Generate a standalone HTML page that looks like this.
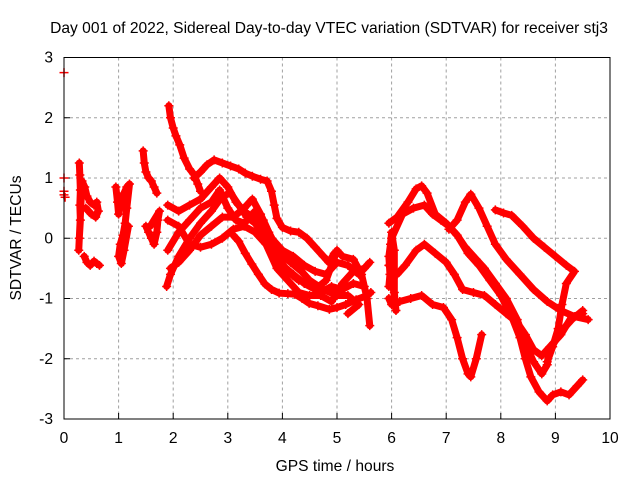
<!DOCTYPE html>
<html><head><meta charset="utf-8"><style>
body{margin:0;background:#fff}
svg{display:block;font-family:"Liberation Sans",Arial,sans-serif}
</style></head><body>
<svg id="chart" width="640" height="480" viewBox="0 0 640 480" xmlns="http://www.w3.org/2000/svg">
<rect width="640" height="480" fill="#fff"/>
<text x="329" y="33" font-size="15.6" text-anchor="middle" fill="#000">Day 001 of 2022, Sidereal Day-to-day VTEC variation (SDTVAR) for receiver stj3</text>
<g id="grid"></g>
<g id="ticks"></g>
<g id="marks"></g>
<rect x="64" y="57.5" width="546" height="361.5" fill="none" stroke="#000" stroke-width="1"/>
<text x="335" y="471" font-size="15.6" text-anchor="middle">GPS time / hours</text>
<text x="0" y="0" font-size="15.6" text-anchor="middle" transform="translate(21,238) rotate(-90)">SDTVAR / TECUs</text>
</svg>
<script>
const xTicks=[0,1,2,3,4,5,6,7,8,9,10];
const yTicks=[-3,-2,-1,0,1,2,3];
const s1=[[0,2.75],[0,1.0],[0,0.78],[0,0.72],[0.02,0.68]];
const s2=[[0.28,1.25],[0.29,1.05],[0.3,0.8],[0.29,0.55],[0.3,0.3],[0.28,0.0],[0.27,-0.2],[0.33,0.95],[0.38,0.85],[0.42,0.7],[0.48,0.6],[0.55,0.55],[0.6,0.6],[0.63,0.45],[0.58,0.35],[0.5,0.4],[0.4,0.5]];
const s3=[[0.37,-0.3],[0.42,-0.4],[0.48,-0.45],[0.55,-0.38],[0.6,-0.42],[0.65,-0.45]];
const s4=[[0.95,0.85],[0.98,0.6],[1.0,0.4],[1.05,0.6],[1.1,0.75],[1.15,0.85],[1.2,0.9],[1.15,0.5],[1.12,0.25],[1.08,0.05],[1.03,-0.1],[1.0,-0.3],[1.05,-0.42],[1.1,-0.2],[1.18,0.2]];
const s5=[[1.45,1.45],[1.47,1.25],[1.5,1.1],[1.55,1.0],[1.6,0.95],[1.65,0.85],[1.7,0.75]];
const s6=[[1.5,0.2],[1.55,0.1],[1.6,0.0],[1.65,-0.1],[1.7,0.1],[1.72,0.3],[1.75,0.45],[1.58,0.2]];
const s7=[[1.92,2.2],[1.95,2.0],[2.0,1.83],[2.05,1.7],[2.12,1.55],[2.2,1.33],[2.3,1.15],[2.38,1.06],[2.45,0.9],[2.5,0.78]];
const s8=[[2.38,1.0],[2.5,1.1],[2.62,1.22],[2.75,1.3],[2.9,1.25],[3.05,1.2],[3.2,1.15],[3.32,1.08],[3.45,1.03],[3.6,0.98],[3.72,0.95],[3.8,0.78],[3.85,0.55],[3.9,0.33],[4.0,0.18],[4.15,0.12],[4.3,0.1],[4.45,0.0],[4.6,-0.15],[4.75,-0.3],[4.85,-0.4],[4.95,-0.25]];
const s9=[[3.1,0.05],[3.2,-0.05],[3.32,-0.25],[3.44,-0.43],[3.56,-0.6],[3.68,-0.76],[3.8,-0.85],[3.94,-0.91],[4.1,-0.92],[4.23,-0.93],[4.36,-1.0],[4.49,-1.08],[4.65,-1.12],[4.86,-1.18],[5.0,-1.15],[5.16,-1.1],[5.35,-1.02],[5.53,-0.96],[5.62,-0.9]];
const s10=[[1.88,-0.8],[1.95,-0.6],[2.1,-0.3],[2.3,0.0],[2.5,0.25],[2.7,0.45],[2.9,0.7],[3.05,0.75],[3.2,0.55],[3.35,0.35],[3.5,0.25],[3.7,0.0],[3.9,-0.3],[4.1,-0.55],[4.3,-0.7],[4.5,-0.75],[4.7,-0.9],[4.9,-0.8],[5.1,-0.85],[5.3,-0.75],[5.5,-0.8]];
const s11=[[1.9,-0.2],[2.1,0.1],[2.3,0.3],[2.5,0.5],[2.7,0.6],[2.85,0.8],[3.0,0.5],[3.15,0.3],[3.3,0.25],[3.5,0.45],[3.65,0.3],[3.8,0.0],[4.0,-0.2],[4.2,-0.3],[4.4,-0.45],[4.6,-0.55],[4.8,-0.6],[5.0,-0.4],[5.2,-0.45],[5.4,-0.6],[5.6,-0.4]];
const s12=[[1.9,0.3],[2.1,0.2],[2.3,-0.1],[2.5,-0.15],[2.7,-0.1],[2.9,0.0],[3.1,0.15],[3.3,0.2],[3.5,0.1],[3.7,-0.1],[3.9,-0.5],[4.1,-0.7],[4.3,-0.9],[4.5,-0.95],[4.7,-0.95],[4.9,-1.05],[5.1,-0.75],[5.3,-0.55],[5.5,-0.5]];
const s13=[[1.9,0.55],[2.1,0.45],[2.3,0.55],[2.5,0.65],[2.7,0.85],[2.85,1.0],[3.0,0.85],[3.15,0.6],[3.3,0.45],[3.45,0.35],[3.6,0.2],[3.8,-0.15],[4.0,-0.45],[4.2,-0.6],[4.4,-0.75],[4.6,-0.85],[4.8,-0.7],[5.0,-0.2],[5.1,-0.3],[5.3,-0.35],[5.45,-0.6],[5.55,-1.0],[5.6,-1.45]];
const s14=[[1.95,-0.5],[2.1,-0.4],[2.3,-0.2],[2.5,0.05],[2.7,0.2],[2.9,0.35],[3.1,0.35],[3.3,0.5],[3.45,0.65],[3.6,0.4],[3.75,0.1],[3.95,-0.25],[4.15,-0.4],[4.35,-0.55],[4.5,-0.7],[4.75,-0.85],[5.0,-0.95],[5.2,-0.95],[5.4,-1.1],[5.2,-1.25]];
const s15=[[5.95,0.25],[6.1,0.35],[6.3,0.6],[6.45,0.82],[6.55,0.87],[6.65,0.75],[6.8,0.4],[7.0,0.25],[7.2,0.05],[7.4,-0.25],[7.6,-0.45],[7.8,-0.7],[8.0,-0.95],[8.2,-1.3],[8.35,-1.65],[8.45,-2.0],[8.55,-2.3],[8.7,-2.55],[8.85,-2.7],[8.95,-2.6],[9.1,-2.55],[9.25,-2.6],[9.4,-2.45],[9.5,-2.35]];
const s16=[[7.05,0.15],[7.2,0.3],[7.35,0.6],[7.45,0.73],[7.6,0.5],[7.75,0.2],[7.9,-0.1],[8.1,-0.35],[8.35,-0.6],[8.6,-0.85],[8.85,-1.05],[9.1,-1.2],[9.35,-1.3],[9.6,-1.35]];
const s17=[[7.9,0.47],[8.05,0.42],[8.2,0.38],[8.4,0.2],[8.6,0.0],[8.8,-0.15],[9.0,-0.3],[9.2,-0.45],[9.35,-0.55],[9.2,-0.75],[9.12,-1.1],[9.05,-1.5],[8.95,-1.8],[8.85,-2.05]];
const s18=[[6.0,0.0],[6.2,0.4],[6.4,0.5],[6.6,0.55],[6.75,0.4],[6.9,0.3],[7.05,0.2],[7.2,0.05],[7.35,-0.15],[7.55,-0.35],[7.7,-0.5],[7.9,-0.75],[8.1,-1.0],[8.3,-1.35],[8.45,-1.75],[8.6,-2.05],[8.75,-2.25],[8.85,-2.1],[8.9,-1.85],[9.1,-1.55],[9.3,-1.35],[9.5,-1.2]];
const s19=[[5.95,-0.45],[6.1,-0.6],[6.25,-0.45],[6.45,-0.2],[6.6,-0.1],[6.8,-0.25],[7.0,-0.4],[7.15,-0.6],[7.3,-0.85],[7.5,-0.9],[7.7,-0.95],[7.9,-1.1],[8.1,-1.25],[8.3,-1.4],[8.45,-1.6],[8.6,-1.85],[8.75,-1.95],[8.9,-1.8],[9.1,-1.6],[9.3,-1.3],[9.5,-1.25]];
const s20=[[5.95,-1.0],[6.0,-1.1],[6.15,-1.05],[6.35,-1.0],[6.55,-0.95],[6.75,-1.1],[6.95,-1.15],[7.1,-1.35],[7.2,-1.65],[7.3,-2.0],[7.4,-2.25],[7.45,-2.3],[7.55,-2.0],[7.65,-1.6]];
const s21=[[5.95,-0.8],[5.97,-0.6],[5.95,-0.3],[5.98,-0.1],[6.0,0.1],[6.05,-0.2],[6.05,-0.9],[6.08,-1.2],[6.02,-0.75]];
const seriesList=[s1,s2,s3,s4,s5,s6,s7,s8,s9,s10,s11,s12,s13,s14,s15,s16,s17,s18,s19,s20,s21];

const X0=64,X1=610,Y0=419,Y1=57.5;
function sx(v){return X0+(v-0)/(10-0)*(X1-X0);}
function sy(v){return Y0-(v+3)/6*(Y0-Y1);}
const NS="http://www.w3.org/2000/svg";
function mk(tag,attrs,parent){const e=document.createElementNS(NS,tag);for(const k in attrs)e.setAttribute(k,attrs[k]);parent.appendChild(e);return e;}
const grid=document.getElementById('grid'),ticks=document.getElementById('ticks'),marks=document.getElementById('marks');
xTicks.forEach(t=>{
  const x=sx(t);
  if(t>0&&t<10){const l=mk('line',{x1:x,x2:x,y1:Y1,y2:Y0,stroke:'#a0a0a0','stroke-dasharray':'3,3'},grid);
  
  }
  const tk=mk('line',{x1:x,x2:x,y1:Y0,y2:Y0-6,stroke:'#000'},ticks);
  
  
  const tx=mk('text',{x:x,y:443,'font-size':15.6,'text-anchor':'middle'},ticks);tx.textContent=t;
  
  
});
yTicks.forEach(t=>{
  const y=sy(t);
  if(t>-3&&t<3){const l=mk('line',{x1:X0,x2:X1,y1:y,y2:y,stroke:'#a0a0a0','stroke-dasharray':'3,3'},grid);
  
  }
  const tk=mk('line',{x1:X0,x2:X0+6,y1:y,y2:y,stroke:'#000'},ticks);
  
  
  const tx=mk('text',{x:53,y:y+5,'font-size':15.6,'text-anchor':'end'},ticks);tx.textContent=t;
  
  
});
seriesList.forEach((s,i)=>{
  const g=mk('g',{},marks);
  
  
  if(i>0){
    const pl=mk('polyline',{points:s.map(p=>sx(p[0])+','+sy(p[1])).join(' '),fill:'none',stroke:'#f00','stroke-width':7,'stroke-linejoin':'round','stroke-linecap':'round'},g);
    
    
  }
  s.forEach(p=>{
    const x=sx(p[0]),y=sy(p[1]);
    const m=mk('path',{d:`M${x-4.5},${y}H${x+4.5}M${x},${y-4.5}V${y+4.5}`,stroke:'#f00','stroke-width':1.5},g);
    
    
  });
});
</script>
</body></html>
